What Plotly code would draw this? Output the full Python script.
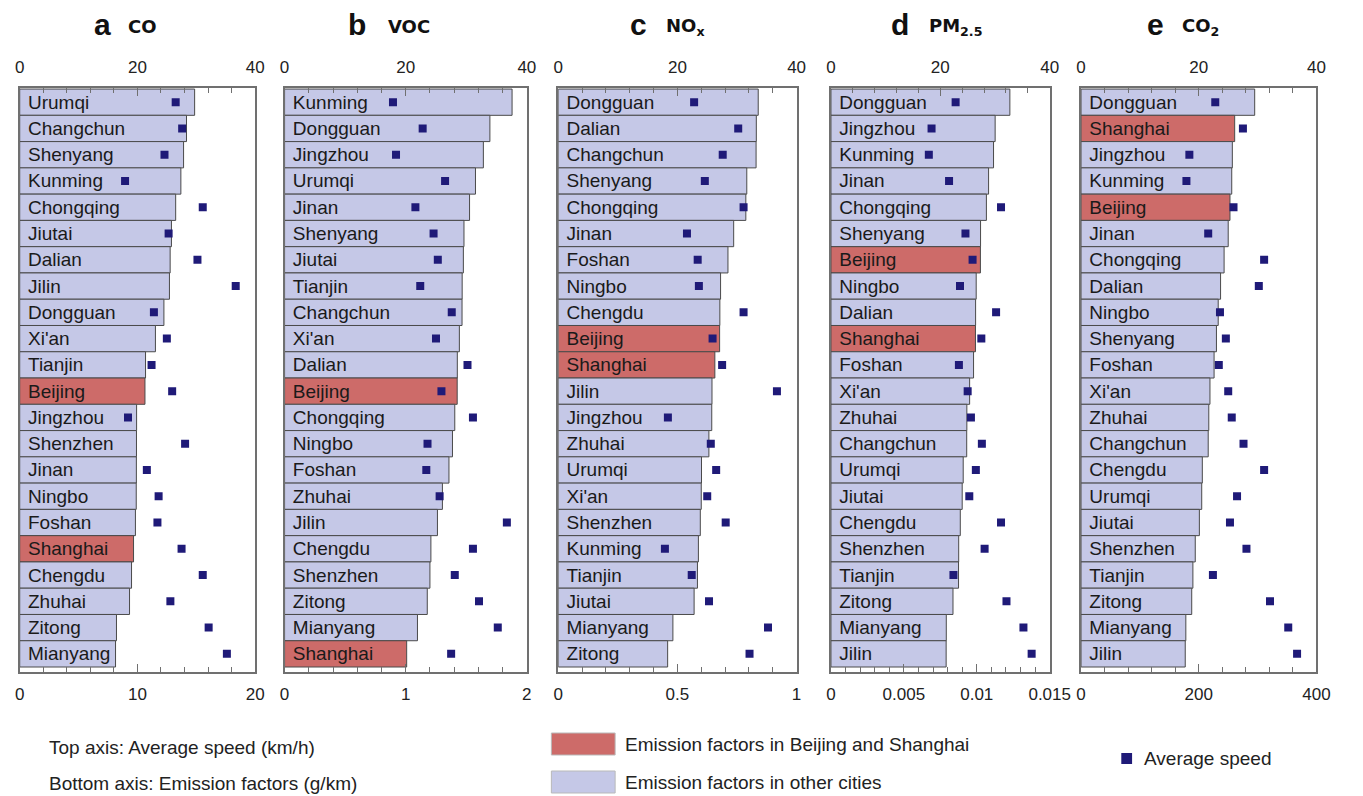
import plotly.graph_objects as go

# ---------------- data ----------------
cities = ["Urumqi", "Changchun", "Shenyang", "Kunming", "Chongqing", "Jiutai", "Dalian",
          "Jilin", "Dongguan", "Xi'an", "Tianjin", "Beijing", "Jingzhou", "Shenzhen",
          "Jinan", "Ningbo", "Foshan", "Shanghai", "Chengdu", "Zhuhai", "Zitong", "Mianyang"]
avg_speed = [26.5, 27.6, 24.6, 17.9, 31.1, 25.3, 30.2, 36.7, 22.8, 25.0, 22.4, 25.9,
             18.4, 28.1, 21.6, 23.6, 23.4, 27.5, 31.1, 25.6, 32.1, 35.2]
highlight = ["Beijing", "Shanghai"]

co_order = ["Urumqi", "Changchun", "Shenyang", "Kunming", "Chongqing", "Jiutai", "Dalian",
            "Jilin", "Dongguan", "Xi'an", "Tianjin", "Beijing", "Jingzhou", "Shenzhen",
            "Jinan", "Ningbo", "Foshan", "Shanghai", "Chengdu", "Zhuhai", "Zitong", "Mianyang"]
co_ef = [14.86, 14.17, 13.92, 13.69, 13.25, 12.89, 12.78, 12.72, 12.25, 11.53, 10.69, 10.64,
         9.93, 9.92, 9.91, 9.90, 9.83, 9.67, 9.50, 9.33, 8.22, 8.14]

voc_order = ["Kunming", "Dongguan", "Jingzhou", "Urumqi", "Jinan", "Shenyang", "Jiutai",
             "Tianjin", "Changchun", "Xi'an", "Dalian", "Beijing", "Chongqing", "Ningbo",
             "Foshan", "Zhuhai", "Jilin", "Chengdu", "Shenzhen", "Zitong", "Mianyang", "Shanghai"]
voc_ef = [1.878, 1.695, 1.641, 1.576, 1.527, 1.481, 1.476, 1.466, 1.465, 1.443, 1.426, 1.425,
          1.405, 1.386, 1.357, 1.303, 1.262, 1.208, 1.200, 1.178, 1.097, 1.008]

nox_order = ["Dongguan", "Dalian", "Changchun", "Shenyang", "Chongqing", "Jinan", "Foshan",
             "Ningbo", "Chengdu", "Beijing", "Shanghai", "Jilin", "Jingzhou", "Zhuhai",
             "Urumqi", "Xi'an", "Shenzhen", "Kunming", "Tianjin", "Jiutai", "Mianyang", "Zitong"]
nox_ef = [0.839, 0.831, 0.830, 0.791, 0.787, 0.736, 0.712, 0.681, 0.678, 0.677, 0.657, 0.645,
          0.644, 0.632, 0.601, 0.600, 0.596, 0.588, 0.584, 0.570, 0.481, 0.459]

pm_order = ["Dongguan", "Jingzhou", "Kunming", "Jinan", "Chongqing", "Shenyang", "Beijing",
            "Ningbo", "Dalian", "Shanghai", "Foshan", "Xi'an", "Zhuhai", "Changchun",
            "Urumqi", "Jiutai", "Chengdu", "Shenzhen", "Tianjin", "Zitong", "Mianyang", "Jilin"]
pm_ef = [0.01227, 0.01126, 0.01115, 0.01081, 0.01066, 0.01026, 0.01025, 0.00996, 0.00992,
         0.00991, 0.00978, 0.00951, 0.00932, 0.00931, 0.00907, 0.00900, 0.00887, 0.00876,
         0.00875, 0.00837, 0.00791, 0.00790]

co2_order = ["Dongguan", "Shanghai", "Jingzhou", "Kunming", "Beijing", "Jinan", "Chongqing",
             "Dalian", "Ningbo", "Shenyang", "Foshan", "Xi'an", "Zhuhai", "Changchun",
             "Chengdu", "Urumqi", "Jiutai", "Shenzhen", "Tianjin", "Zitong", "Mianyang", "Jilin"]
co2_ef = [295, 261, 257, 256, 253, 250, 243, 237, 233, 230, 226, 219, 217, 216, 206, 205,
          201, 194, 190, 188, 178, 177]

panel_letters = ["a", "b", "c", "d", "e"]
panel_species = ["CO", "VOC", "NO<sub>x</sub>", "PM<sub>2.5</sub>", "CO<sub>2</sub>"]
panel_orders = [co_order, voc_order, nox_order, pm_order, co2_order]
panel_values = [co_ef, voc_ef, nox_ef, pm_ef, co2_ef]
ef_ranges = [[0, 20], [0, 2], [0, 1], [0, 0.015], [0, 400]]
ef_dticks = [10, 1, 0.5, 0.005, 200]
ef_minor = [2, 0.2, 0.1, 0.001, 40]
speed_range = [0, 40]

# ---------------- style / layout ----------------
W, H = 1363, 796
FONT = "Liberation Sans, Arial, sans-serif"
RED = "#cd6b69"
LAV = "#c5c8e7"
NAVY = "#1f1a78"
AXC = "#707070"
panel_px = [(15, 255), (285, 532), (564, 807), (842, 1065), (1097, 1337)]
plot_top, plot_bot = 88, 672
ydom = [1 - plot_bot / H, 1 - plot_top / H]
yrange = [21.69, -0.54]

speed_of = dict(zip(cities, avg_speed))

fig = go.Figure()
layout = dict(width=W, height=H, margin=dict(l=0, r=0, t=0, b=0),
              plot_bgcolor="white", paper_bgcolor="white", showlegend=False,
              font=dict(family=FONT, color="#222"), barmode="overlay")
annotations = []
shapes = []

for i in range(5):
    xb = 2 * i + 1
    xt = 2 * i + 2
    yn = i + 1
    xb_ref = "x" if xb == 1 else f"x{xb}"
    xt_ref = f"x{xt}"
    y_ref = "y" if yn == 1 else f"y{yn}"
    order = panel_orders[i]
    vals = panel_values[i]
    colors = [RED if c in highlight else LAV for c in order]

    fig.add_trace(go.Bar(
        x=vals, y=order, orientation="h", xaxis=xb_ref, yaxis=y_ref,
        marker=dict(color=colors, line=dict(color="#4a4a4a", width=1)),
        width=1.0, text=["\u00a0" + c for c in order], textposition="inside",
        insidetextanchor="start", constraintext="none",
        textfont=dict(family=FONT, size=19, color="#1a1a1a"),
        hoverinfo="x+y"))
    fig.add_trace(go.Scatter(
        x=[speed_of[c] for c in order], y=order, mode="markers",
        xaxis=xt_ref, yaxis=y_ref,
        marker=dict(symbol="square", size=8, color=NAVY), hoverinfo="x+y"))

    x0, x1 = panel_px[i]
    dom = [x0 / W, x1 / W]
    common = dict(showgrid=False, zeroline=False, showline=True, linecolor=AXC,
                  linewidth=1.5, ticks="inside", ticklen=8, tickcolor=AXC, tickwidth=1.2,
                  tickfont=dict(family=FONT, size=17, color="#222"),
                  ticklabelstandoff=6)
    layout["xaxis" if xb == 1 else f"xaxis{xb}"] = dict(
        domain=dom, anchor=y_ref, range=ef_ranges[i], dtick=ef_dticks[i], tick0=0,
        side="bottom",
        minor=dict(ticks="inside", ticklen=5, dtick=ef_minor[i], tick0=0,
                   tickcolor=AXC, tickwidth=1.2, showgrid=False),
        **common)
    layout[f"xaxis{xt}"] = dict(
        domain=dom, anchor=y_ref, overlaying=xb_ref, side="top",
        range=speed_range, dtick=20, tick0=0,
        minor=dict(ticks="inside", ticklen=5, dtick=4, tick0=0,
                   tickcolor=AXC, tickwidth=1.2, showgrid=False),
        **common)
    layout["yaxis" if yn == 1 else f"yaxis{yn}"] = dict(
        domain=ydom, anchor=xb_ref, type="category", categoryorder="array",
        categoryarray=order, range=yrange, autorange=False,
        showticklabels=False, ticks="", showgrid=False, zeroline=False,
        showline=True, mirror=True, linecolor=AXC, linewidth=1.5)

    # panel titles
    title_letter_right = [110, 370, 657, 924, 1184][i]
    title_species_left = [123, 388, 672, 940, 1198][i]
    annotations.append(dict(text=f"<b>{panel_letters[i]}</b>", x=title_letter_right / W,
                            y=1 - 24 / H, xref="paper", yref="paper", xanchor="right",
                            yanchor="middle", showarrow=False,
                            font=dict(family=FONT, size=30, color="#111")))
    annotations.append(dict(text=f"<b>{panel_species[i]}</b>", x=title_species_left / W,
                            y=1 - 27 / H, xref="paper", yref="paper", xanchor="left",
                            yanchor="middle", showarrow=False,
                            font=dict(family="DejaVu Sans, sans-serif", size=18, color="#111")))

# ---------------- legend (drawn) ----------------
legend_font = dict(family=FONT, size=19, color="#222")
annotations.append(dict(text="Top axis: Average speed (km/h)", x=43 / W, y=1 - 747 / H,
                        xref="paper", yref="paper", xanchor="left", yanchor="middle",
                        showarrow=False, font=legend_font))
annotations.append(dict(text="Bottom axis: Emission factors (g/km)", x=43 / W, y=1 - 783 / H,
                        xref="paper", yref="paper", xanchor="left", yanchor="middle",
                        showarrow=False, font=legend_font))
shapes.append(dict(type="rect", xref="paper", yref="paper", x0=557 / W, x1=622 / W,
                   y0=1 - 755 / H, y1=1 - 733 / H, fillcolor=RED,
                   line=dict(color="#b9b9b9", width=1)))
shapes.append(dict(type="rect", xref="paper", yref="paper", x0=557 / W, x1=622 / W,
                   y0=1 - 793 / H, y1=1 - 771 / H, fillcolor=LAV,
                   line=dict(color="#b9b9b9", width=1)))
annotations.append(dict(text="Emission factors in Beijing and Shanghai", x=630 / W,
                        y=1 - 744 / H, xref="paper", yref="paper", xanchor="left",
                        yanchor="middle", showarrow=False, font=legend_font))
annotations.append(dict(text="Emission factors in other cities", x=630 / W,
                        y=1 - 782 / H, xref="paper", yref="paper", xanchor="left",
                        yanchor="middle", showarrow=False, font=legend_font))
shapes.append(dict(type="rect", xref="paper", yref="paper", x0=1138 / W, x1=1149 / W,
                   y0=1 - 764 / H, y1=1 - 753 / H, fillcolor=NAVY, line=dict(width=0)))
annotations.append(dict(text="Average speed", x=1159 / W, y=1 - 758 / H,
                        xref="paper", yref="paper", xanchor="left", yanchor="middle",
                        showarrow=False, font=legend_font))

layout["annotations"] = annotations
layout["shapes"] = shapes
fig.update_layout(**layout)
fig.write_html(
    "out.html",
    config={"displayModeBar": False},
    post_script="document.body.style.margin='0';document.body.style.overflow='hidden';",
)
